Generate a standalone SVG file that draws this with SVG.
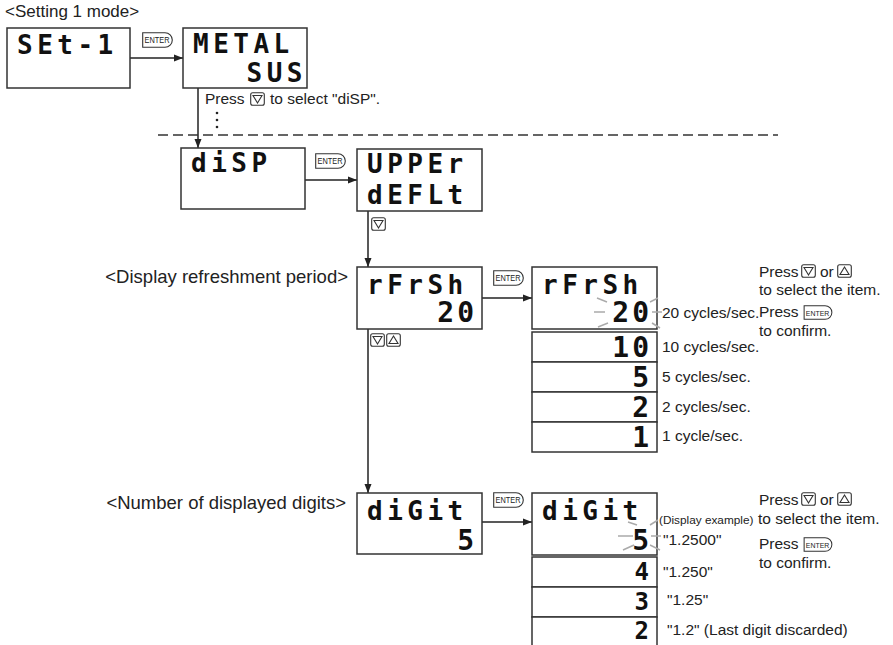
<svg xmlns="http://www.w3.org/2000/svg" xmlns:xlink="http://www.w3.org/1999/xlink" width="893" height="645" viewBox="0 0 893 645">
<style>
  .box{fill:#fff;stroke:#333;stroke-width:1.5}
  .ln{fill:none;stroke:#222;stroke-width:1.5}
  .lbl{font-family:"Liberation Sans",Arial,sans-serif;font-size:18.5px;fill:#222}
  .note{font-family:"Liberation Sans",Arial,sans-serif;font-size:15.5px;fill:#222}
  .seg{font-family:"DejaVu Sans Mono","Liberation Mono",monospace;font-weight:bold;font-size:26px;letter-spacing:4.5px;fill:#111}
  .num{font-family:"DejaVu Sans Mono","Liberation Mono",monospace;font-weight:bold;font-size:28px;letter-spacing:3px;fill:#111}
  .sm{font-size:24px}
  .ray{stroke:#aaa;stroke-width:1.5}
  .ekey{font-family:"Liberation Sans",Arial,sans-serif;font-size:8.5px;fill:#222}
</style>
<defs>
  <marker id="arr" markerWidth="10" markerHeight="10" refX="9" refY="5" orient="auto" markerUnits="userSpaceOnUse">
    <path d="M0,1.5 L9,5 L0,8.5 Z" fill="#222"/>
  </marker>
  <symbol id="enter" viewBox="0 0 31 16" overflow="visible">
    <path d="M0.7,0.7 H23 A7.3,7.3 0 0 1 23,15.3 H0.7 Z" fill="#fff" stroke="#333" stroke-width="1.1"/>
    <text x="2.5" y="11.3" class="ekey" textLength="25" lengthAdjust="spacingAndGlyphs">ENTER</text>
  </symbol>
  <symbol id="down" viewBox="0 0 15 14" overflow="visible">
    <rect x="0.7" y="0.7" width="13.6" height="12.6" rx="2" fill="#fff" stroke="#333" stroke-width="1.1"/>
    <path d="M3,3.5 H12 L7.5,11 Z" fill="none" stroke="#333" stroke-width="1.1"/>
  </symbol>
  <symbol id="up" viewBox="0 0 15 14" overflow="visible">
    <rect x="0.7" y="0.7" width="13.6" height="12.6" rx="2" fill="#fff" stroke="#333" stroke-width="1.1"/>
    <path d="M3,10.5 H12 L7.5,3 Z" fill="none" stroke="#333" stroke-width="1.1"/>
  </symbol>
</defs>

<rect width="893" height="645" fill="#fff"/>

<!-- labels -->
<text class="lbl" x="5" y="17" style="font-size:17px">&lt;Setting 1 mode&gt;</text>
<text class="lbl" x="348" y="283" text-anchor="end">&lt;Display refreshment period&gt;</text>
<text class="lbl" x="346" y="509" text-anchor="end">&lt;Number of displayed digits&gt;</text>

<!-- connectors -->
<g id="connectors">
  <line class="ln" x1="130" y1="58" x2="183" y2="58" marker-end="url(#arr)"/>
  <line class="ln" x1="198" y1="88" x2="198" y2="148" marker-end="url(#arr)"/>
  <line x1="158" y1="135" x2="778" y2="135" stroke="#333" stroke-width="1.5" stroke-dasharray="10 5"/>
  <line class="ln" x1="305" y1="180" x2="357" y2="180" marker-end="url(#arr)"/>
  <line class="ln" x1="368" y1="211" x2="368" y2="267" marker-end="url(#arr)"/>
  <line class="ln" x1="482" y1="298" x2="532" y2="298" marker-end="url(#arr)"/>
  <line class="ln" x1="368" y1="329" x2="368" y2="493" marker-end="url(#arr)"/>
  <line class="ln" x1="482" y1="522" x2="532" y2="522" marker-end="url(#arr)"/>
  <use href="#enter" x="142" y="32" width="31" height="16"/>
  <use href="#enter" x="315" y="153" width="31" height="16"/>
  <use href="#enter" x="493" y="270" width="31" height="16"/>
  <use href="#enter" x="493" y="492" width="31" height="16"/>
  <use href="#down" x="371" y="217" width="15" height="14"/>
  <use href="#down" x="370" y="333" width="15" height="14"/>
  <use href="#up" x="386" y="333" width="15" height="14"/>
</g>

<!-- press text (top) -->
<g id="press-note">
  <text class="note" x="205" y="104">Press</text>
  <use href="#down" x="250" y="92" width="15" height="14"/>
  <text class="note" x="270" y="104">to select "diSP".</text>
  <circle cx="217" cy="113" r="1.3" fill="#222"/>
  <circle cx="217" cy="120" r="1.3" fill="#222"/>
  <circle cx="217" cy="127" r="1.3" fill="#222"/>
</g>

<g id="set1">
  <rect class="box" x="7" y="28" width="123" height="60"/>
  <text class="seg" x="17" y="54">SEt-1</text>
</g>
<g id="metal">
  <rect class="box" x="183" y="28" width="124" height="60"/>
  <text class="seg" x="193" y="53">METAL</text>
  <text class="seg" x="307" y="82" text-anchor="end">SUS</text>
</g>
<g id="disp">
  <rect class="box" x="181" y="148" width="124" height="61"/>
  <text class="seg" x="191" y="172">diSP</text>
</g>
<g id="upper">
  <rect class="box" x="357" y="149" width="125" height="62"/>
  <text class="seg" x="367" y="173">UPPEr</text>
  <text class="seg" x="367" y="204">dEFLt</text>
</g>

<g id="rfrsh">
  <rect class="box" x="357" y="267" width="125" height="62"/>
  <text class="seg" x="367" y="294">rFrSh</text>
  <text class="num" x="477" y="322" text-anchor="end">20</text>
</g>
<g id="rfrsh-select">
  <rect class="box" x="532" y="267" width="125" height="62"/>
  <text class="seg" x="542" y="294">rFrSh</text>
  <text class="num" x="652" y="322" text-anchor="end">20</text>
  <line class="ray" x1="597" y1="298" x2="607" y2="302"/>
  <line class="ray" x1="594" y1="312" x2="605" y2="312"/>
  <line class="ray" x1="598" y1="327" x2="608" y2="323"/>
  <line class="ray" x1="650" y1="302" x2="658" y2="298"/>
  <line class="ray" x1="652" y1="312" x2="662" y2="312"/>
  <line class="ray" x1="652" y1="323" x2="660" y2="328"/>
</g>
<g id="rfrsh-list">
  <rect class="box" x="532" y="332" width="125" height="30"/>
  <rect class="box" x="532" y="362" width="125" height="30"/>
  <rect class="box" x="532" y="392" width="125" height="30"/>
  <rect class="box" x="532" y="422" width="125" height="30"/>
  <text class="num" x="652" y="357" text-anchor="end">10</text>
  <text class="num" x="652" y="387" text-anchor="end">5</text>
  <text class="num" x="652" y="417" text-anchor="end">2</text>
  <text class="num" x="652" y="447" text-anchor="end">1</text>
  <text class="note" x="662" y="318">20 cycles/sec.</text>
  <text class="note" x="662" y="352">10 cycles/sec.</text>
  <text class="note" x="662" y="382">5 cycles/sec.</text>
  <text class="note" x="662" y="412">2 cycles/sec.</text>
  <text class="note" x="662" y="441">1 cycle/sec.</text>
</g>
<g id="rfrsh-note">
  <text class="note" x="759" y="277">Press</text>
  <use href="#down" x="801" y="264" width="15" height="14"/>
  <text class="note" x="820" y="277">or</text>
  <use href="#up" x="837" y="264" width="15" height="14"/>
  <text class="note" x="759" y="295">to select the item.</text>
  <text class="note" x="759" y="317">Press</text>
  <use href="#enter" x="803" y="305" width="30" height="15"/>
  <text class="note" x="759" y="336">to confirm.</text>
</g>

<g id="digit">
  <rect class="box" x="357" y="493" width="125" height="61"/>
  <text class="seg" x="367" y="520">diGit</text>
  <text class="num" x="477" y="550" text-anchor="end">5</text>
</g>
<g id="digit-select">
  <rect class="box" x="532" y="493" width="125" height="62"/>
  <text class="seg" x="542" y="520">diGit</text>
  <text class="num" x="652" y="550" text-anchor="end">5</text>
  <line class="ray" x1="628" y1="522" x2="637" y2="525"/>
  <line class="ray" x1="618" y1="536" x2="633" y2="536"/>
  <line class="ray" x1="623" y1="550" x2="634" y2="545"/>
  <line class="ray" x1="650" y1="525" x2="658" y2="520"/>
  <line class="ray" x1="651" y1="536" x2="661" y2="536"/>
  <line class="ray" x1="650" y1="545" x2="660" y2="550"/>
</g>
<g id="digit-list">
  <rect class="box" x="532" y="557" width="125" height="30"/>
  <rect class="box" x="532" y="587" width="125" height="30"/>
  <rect class="box" x="532" y="617" width="125" height="40"/>
  <text class="num sm" x="652" y="580" text-anchor="end">4</text>
  <text class="num sm" x="652" y="610" text-anchor="end">3</text>
  <text class="num sm" x="652" y="639" text-anchor="end">2</text>
  <text class="note" x="659" y="524" style="font-size:11.8px">(Display example)</text>
  <text class="note" x="663" y="545">"1.2500"</text>
  <text class="note" x="663" y="577">"1.250"</text>
  <text class="note" x="667" y="605">"1.25"</text>
  <text class="note" x="667" y="635">"1.2" (Last digit discarded)</text>
</g>
<g id="digit-note">
  <text class="note" x="759" y="505">Press</text>
  <use href="#down" x="801" y="492" width="15" height="14"/>
  <text class="note" x="820" y="505">or</text>
  <use href="#up" x="837" y="492" width="15" height="14"/>
  <text class="note" x="758" y="524">to select the item.</text>
  <text class="note" x="759" y="549">Press</text>
  <use href="#enter" x="803" y="537" width="30" height="15"/>
  <text class="note" x="759" y="568">to confirm.</text>
</g>
</svg>
